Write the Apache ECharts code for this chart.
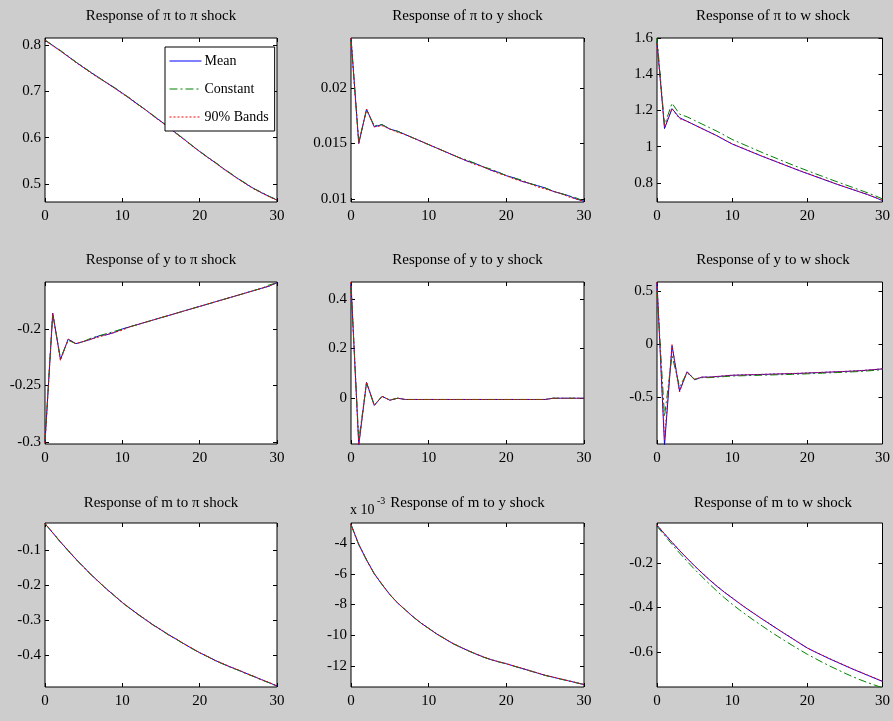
<!DOCTYPE html>
<html><head><meta charset="utf-8">
<script src="https://cdn.jsdelivr.net/npm/echarts@6/dist/echarts.min.js"></script>
<style>html,body{margin:0;padding:0;background:#cdcdcd}#c{width:893px;height:721px}</style>
</head><body><div id="c"></div>
<script>
// horizon (x axis)
const horizon=[0,1,2,3,4,5,6,7,8,9,10,11,12,13,14,15,16,17,18,19,20,21,22,23,24,25,26,27,28,29,30];
const xTicks=[0,10,20,30];
const seriesNames=['Mean','Constant','90% Bands'];
const titles=['Response of \u03c0 to \u03c0 shock','Response of \u03c0 to y shock','Response of \u03c0 to w shock',
'Response of y to \u03c0 shock','Response of y to y shock','Response of y to w shock',
'Response of m to \u03c0 shock','Response of m to y shock','Response of m to w shock'];

// Panel 1: pi to pi
const piPiMean=[0.810,0.799,0.787,0.775,0.763,0.751,0.740,0.729,0.718,0.707,0.696,0.684,0.672,0.660,0.647,0.635,0.622,0.609,0.596,0.583,0.570,0.558,0.546,0.534,0.522,0.511,0.500,0.490,0.481,0.473,0.465];
const piPiConst=[0.811,0.799,0.788,0.776,0.763,0.752,0.740,0.729,0.718,0.708,0.696,0.685,0.672,0.660,0.648,0.635,0.623,0.609,0.597,0.583,0.571,0.558,0.547,0.534,0.523,0.511,0.501,0.490,0.482,0.473,0.466];
const piPiBand=[0.810,0.798,0.787,0.775,0.762,0.751,0.739,0.728,0.718,0.707,0.695,0.684,0.671,0.660,0.647,0.634,0.622,0.608,0.596,0.582,0.570,0.557,0.546,0.533,0.522,0.510,0.500,0.489,0.481,0.472,0.465];
const piPiTicks=[0.5,0.6,0.7,0.8];
// Panel 2: pi to y
const piYMean=[0.0245,0.0150,0.0181,0.0165,0.0167,0.0163,0.0161,0.0158,0.0155,0.0152,0.0149,0.0146,0.0143,0.0140,0.0137,0.0134,0.0132,0.0129,0.0126,0.0124,0.0121,0.0119,0.0116,0.0114,0.0112,0.0110,0.0107,0.0105,0.0103,0.0100,0.0098];
const piYConst=[0.0244,0.0151,0.0180,0.0166,0.0167,0.0163,0.0161,0.0158,0.0155,0.0152,0.0149,0.0146,0.0143,0.0140,0.0137,0.0135,0.0132,0.0129,0.0127,0.0124,0.0121,0.0119,0.0117,0.0114,0.0112,0.0110,0.0107,0.0105,0.0103,0.0101,0.0098];
const piYBand=[0.0245,0.0150,0.0181,0.0165,0.0166,0.0163,0.0160,0.0158,0.0155,0.0152,0.0149,0.0146,0.0143,0.0140,0.0137,0.0134,0.0131,0.0129,0.0126,0.0123,0.0121,0.0118,0.0116,0.0114,0.0111,0.0109,0.0107,0.0105,0.0102,0.0100,0.0098];
const piYTicks=[0.01,0.015,0.02];
// Panel 3: pi to w
const piWMean=[1.58,1.10,1.21,1.16,1.14,1.12,1.10,1.08,1.06,1.037,1.015,0.998,0.981,0.964,0.947,0.931,0.915,0.899,0.883,0.867,0.852,0.837,0.822,0.807,0.792,0.778,0.764,0.750,0.736,0.720,0.703];
const piWConst=[1.60,1.12,1.24,1.18,1.165,1.145,1.125,1.105,1.085,1.063,1.040,1.022,1.004,0.986,0.968,0.951,0.934,0.917,0.900,0.884,0.868,0.852,0.837,0.821,0.806,0.791,0.776,0.761,0.746,0.730,0.712];
const piWBand=[1.57,1.11,1.21,1.155,1.14,1.12,1.10,1.08,1.06,1.038,1.016,0.999,0.982,0.965,0.948,0.932,0.916,0.900,0.884,0.868,0.853,0.838,0.823,0.808,0.793,0.779,0.765,0.751,0.737,0.721,0.704];
const piWTicks=[0.8,1,1.2,1.4,1.6];
// Panel 4: y to pi
const yPiMean=[-0.300,-0.186,-0.227,-0.209,-0.213,-0.211,-0.209,-0.206,-0.205,-0.203,-0.200,-0.198,-0.196,-0.194,-0.192,-0.190,-0.188,-0.186,-0.184,-0.182,-0.180,-0.178,-0.176,-0.174,-0.172,-0.170,-0.168,-0.166,-0.164,-0.162,-0.159];
const yPiConst=[-0.299,-0.187,-0.226,-0.210,-0.213,-0.211,-0.208,-0.206,-0.204,-0.202,-0.200,-0.198,-0.196,-0.194,-0.192,-0.190,-0.188,-0.186,-0.184,-0.182,-0.180,-0.178,-0.176,-0.174,-0.172,-0.170,-0.168,-0.166,-0.164,-0.161,-0.159];
const yPiBand=[-0.301,-0.186,-0.228,-0.209,-0.213,-0.211,-0.209,-0.207,-0.205,-0.203,-0.201,-0.198,-0.196,-0.194,-0.192,-0.190,-0.188,-0.186,-0.184,-0.182,-0.180,-0.178,-0.176,-0.174,-0.172,-0.170,-0.168,-0.166,-0.164,-0.162,-0.159];
const yPiTicks=[-0.3,-0.25,-0.2];
// Panel 5: y to y
const yYMean=[0.46,-0.19,0.063,-0.030,0.007,-0.009,-0.001,-0.006,-0.006,-0.006,-0.006,-0.006,-0.006,-0.006,-0.006,-0.006,-0.006,-0.006,-0.006,-0.006,-0.006,-0.006,-0.006,-0.006,-0.006,-0.006,-0.001,-0.001,-0.001,-0.001,-0.001];
const yYConst=[0.45,-0.17,0.060,-0.028,0.006,-0.008,-0.001,-0.006,-0.006,-0.006,-0.006,-0.006,-0.006,-0.006,-0.006,-0.006,-0.006,-0.006,-0.006,-0.006,-0.006,-0.006,-0.006,-0.006,-0.006,-0.006,-0.001,-0.001,-0.001,-0.001,-0.001];
const yYBand=[0.47,-0.19,0.065,-0.030,0.007,-0.009,-0.001,-0.006,-0.006,-0.006,-0.006,-0.006,-0.006,-0.006,-0.006,-0.006,-0.006,-0.006,-0.006,-0.006,-0.006,-0.006,-0.006,-0.006,-0.006,-0.006,-0.001,-0.001,-0.001,-0.001,-0.001];
const yYTicks=[0,0.2,0.4];
// Panel 6: y to w
const yWMean=[0.58,-0.95,-0.015,-0.44,-0.26,-0.335,-0.31,-0.31,-0.305,-0.299,-0.293,-0.291,-0.289,-0.287,-0.285,-0.283,-0.281,-0.279,-0.277,-0.275,-0.272,-0.269,-0.266,-0.263,-0.260,-0.257,-0.254,-0.250,-0.245,-0.239,-0.233];
const yWConst=[0.50,-0.68,-0.11,-0.40,-0.27,-0.33,-0.315,-0.315,-0.31,-0.305,-0.30,-0.298,-0.296,-0.294,-0.292,-0.290,-0.288,-0.286,-0.284,-0.282,-0.279,-0.276,-0.273,-0.270,-0.267,-0.264,-0.261,-0.257,-0.252,-0.246,-0.240];
const yWBand=[0.58,-0.90,-0.005,-0.45,-0.26,-0.33,-0.31,-0.31,-0.304,-0.298,-0.292,-0.290,-0.288,-0.286,-0.284,-0.282,-0.280,-0.278,-0.276,-0.274,-0.271,-0.268,-0.265,-0.262,-0.259,-0.256,-0.253,-0.249,-0.244,-0.238,-0.232];
const yWTicks=[-0.5,0,0.5];
// Panel 7: m to pi
const mPiMean=[-0.025,-0.051,-0.077,-0.102,-0.126,-0.149,-0.171,-0.192,-0.212,-0.231,-0.250,-0.267,-0.283,-0.299,-0.314,-0.328,-0.342,-0.355,-0.368,-0.381,-0.393,-0.404,-0.415,-0.425,-0.434,-0.443,-0.452,-0.461,-0.470,-0.479,-0.488];
const mPiConst=[-0.025,-0.051,-0.078,-0.102,-0.127,-0.149,-0.172,-0.192,-0.213,-0.231,-0.251,-0.267,-0.284,-0.299,-0.315,-0.328,-0.343,-0.355,-0.369,-0.381,-0.394,-0.404,-0.416,-0.425,-0.435,-0.443,-0.453,-0.461,-0.471,-0.479,-0.489];
const mPiBand=[-0.024,-0.050,-0.077,-0.101,-0.126,-0.148,-0.171,-0.191,-0.212,-0.230,-0.250,-0.266,-0.283,-0.298,-0.314,-0.327,-0.342,-0.354,-0.368,-0.380,-0.393,-0.403,-0.415,-0.424,-0.434,-0.442,-0.452,-0.460,-0.470,-0.478,-0.488];
const mPiTicks=[-0.4,-0.3,-0.2,-0.1];
// Panel 8: m to y (axis labelled in units of 10^-3)
const mYMean=[-0.00280,-0.00410,-0.00510,-0.00600,-0.00670,-0.00735,-0.00790,-0.00835,-0.00880,-0.00920,-0.00955,-0.00990,-0.01020,-0.01050,-0.01075,-0.01098,-0.01120,-0.01140,-0.01158,-0.01172,-0.01185,-0.01200,-0.01215,-0.01230,-0.01245,-0.01260,-0.01272,-0.01284,-0.01296,-0.01308,-0.01320];
const mYConst=[-0.00281,-0.00411,-0.00510,-0.00601,-0.00670,-0.00736,-0.00790,-0.00836,-0.00880,-0.00921,-0.00955,-0.00991,-0.01020,-0.01051,-0.01075,-0.01099,-0.01120,-0.01141,-0.01158,-0.01173,-0.01185,-0.01201,-0.01215,-0.01231,-0.01245,-0.01261,-0.01272,-0.01285,-0.01296,-0.01309,-0.01320];
const mYBand=[-0.00279,-0.00409,-0.00509,-0.00599,-0.00669,-0.00734,-0.00789,-0.00834,-0.00879,-0.00919,-0.00954,-0.00989,-0.01019,-0.01049,-0.01074,-0.01097,-0.01119,-0.01139,-0.01157,-0.01171,-0.01184,-0.01199,-0.01214,-0.01229,-0.01244,-0.01259,-0.01271,-0.01283,-0.01295,-0.01307,-0.01319];
const mYTicks=[-0.012,-0.010,-0.008,-0.006,-0.004];
// Panel 9: m to w
const mWMean=[-0.030,-0.069,-0.107,-0.144,-0.179,-0.213,-0.245,-0.276,-0.305,-0.332,-0.357,-0.382,-0.406,-0.429,-0.452,-0.474,-0.496,-0.518,-0.539,-0.561,-0.582,-0.599,-0.615,-0.631,-0.646,-0.661,-0.676,-0.690,-0.704,-0.718,-0.732];
const mWConst=[-0.035,-0.076,-0.116,-0.155,-0.192,-0.228,-0.262,-0.295,-0.327,-0.357,-0.385,-0.411,-0.436,-0.460,-0.483,-0.506,-0.528,-0.549,-0.570,-0.590,-0.610,-0.628,-0.646,-0.663,-0.679,-0.695,-0.710,-0.724,-0.737,-0.749,-0.760];
const mWBand=[-0.029,-0.068,-0.106,-0.143,-0.178,-0.212,-0.244,-0.275,-0.304,-0.331,-0.356,-0.381,-0.405,-0.428,-0.451,-0.473,-0.495,-0.517,-0.538,-0.560,-0.581,-0.598,-0.614,-0.630,-0.645,-0.660,-0.675,-0.689,-0.703,-0.717,-0.731];
const mWTicks=[-0.6,-0.4,-0.2];

const panels=[
 {mean:piPiMean,cons:piPiConst,band:piPiBand,ticks:piPiTicks,min:0.461,max:0.815},
 {mean:piYMean,cons:piYConst,band:piYBand,ticks:piYTicks,min:0.00973,max:0.0245},
 {mean:piWMean,cons:piWConst,band:piWBand,ticks:piWTicks,min:0.695,max:1.6},
 {mean:yPiMean,cons:yPiConst,band:yPiBand,ticks:yPiTicks,min:-0.3018,max:-0.1584},
 {mean:yYMean,cons:yYConst,band:yYBand,ticks:yYTicks,min:-0.186,max:0.469},
 {mean:yWMean,cons:yWConst,band:yWBand,ticks:yWTicks,min:-0.939,max:0.584},
 {mean:mPiMean,cons:mPiConst,band:mPiBand,ticks:mPiTicks,min:-0.491,max:-0.023},
 {mean:mYMean,cons:mYConst,band:mYBand,ticks:mYTicks,min:-0.01336,max:-0.0027,scale:1000},
 {mean:mWMean,cons:mWConst,band:mWBand,ticks:mWTicks,min:-0.757,max:-0.020}
];

const colLeft=[45,351,657], colWidth=[232,233,232];
const rowTop=[38,282,523], rowHeight=[164,162,164], titleY=[16,260,503];
const FONT='"Liberation Serif","Times New Roman",serif';
const styles=[
 {color:'#0000ff',type:'solid'},
 {color:'#008000',type:[8,3,2,3]},
 {color:'#ff0000',type:[2,2]}
];

const option={backgroundColor:'#cdcdcd',animation:false,grid:[],xAxis:[],yAxis:[],series:[],graphic:[],
 legend:{data:seriesNames,orient:'vertical',left:165,top:47,padding:[7,6,7,4],itemGap:14,itemWidth:32,itemHeight:14,
  backgroundColor:'#fff',borderColor:'#000',borderWidth:1,borderRadius:0,
  itemStyle:{opacity:0},lineStyle:{width:1},
  textStyle:{fontFamily:FONT,fontSize:14,color:'#000',padding:[0,0,0,-2]}}
};
const fmt=(v,s)=>String(parseFloat((v*(s||1)).toPrecision(6)));
panels.forEach((p,i)=>{
 const r=Math.floor(i/3), c=i%3;
 const left=colLeft[c], top=rowTop[r], w=colWidth[c], h=rowHeight[r];
 option.grid.push({left:left,top:top,width:w,height:h,show:true,backgroundColor:'#fff',borderColor:'#000',borderWidth:1});
 option.graphic.push({type:'text',x:left+w/2,y:titleY[r],style:{text:titles[i],font:'15px '+FONT,fill:'#000',align:'center',verticalAlign:'middle',textAlign:'center',textVerticalAlign:'middle'}});
 const tick={inside:true,length:4,lineStyle:{color:'#000',width:1}};
 const line={show:false,onZero:false};
 option.xAxis.push({gridIndex:i,type:'value',min:0,max:30,interval:10,position:'bottom',axisLine:line,axisTick:tick,
  axisLabel:{fontFamily:FONT,fontSize:15,color:'#000',margin:7},splitLine:{show:false}});
 option.xAxis.push({gridIndex:i,type:'value',min:0,max:30,interval:10,position:'top',axisLine:line,axisTick:tick,
  axisLabel:{show:false},splitLine:{show:false}});
 option.yAxis.push({gridIndex:i,type:'value',min:p.min,max:p.max,position:'left',axisLine:line,
  axisTick:Object.assign({customValues:p.ticks},tick),
  axisLabel:{customValues:p.ticks,fontFamily:FONT,fontSize:15,color:'#000',margin:4,formatter:v=>fmt(v,p.scale)},splitLine:{show:false}});
 option.yAxis.push({gridIndex:i,type:'value',min:p.min,max:p.max,position:'right',axisLine:line,
  axisTick:Object.assign({customValues:p.ticks},tick),axisLabel:{show:false},splitLine:{show:false}});
 [p.mean,p.cons,p.band].forEach((arr,k)=>{
  option.series.push({type:'line',name:seriesNames[k],xAxisIndex:2*i,yAxisIndex:2*i,symbol:'none',
   data:horizon.map((x,j)=>[x,arr[j]]),color:styles[k].color,
   itemStyle:{color:styles[k].color},lineStyle:{color:styles[k].color,width:1,type:styles[k].type}});
 });
});
option.graphic.push({type:'text',x:350,y:510,style:{text:'x 10',font:'14px '+FONT,fill:'#000',align:'left',verticalAlign:'middle',textAlign:'left',textVerticalAlign:'middle'}});
option.graphic.push({type:'text',x:377,y:501,style:{text:'-3',font:'10px '+FONT,fill:'#000',align:'left',verticalAlign:'middle',textAlign:'left',textVerticalAlign:'middle'}});
const chart=echarts.init(document.getElementById('c'),null,{renderer:'canvas'});
chart.setOption(option);
</script></body></html>
